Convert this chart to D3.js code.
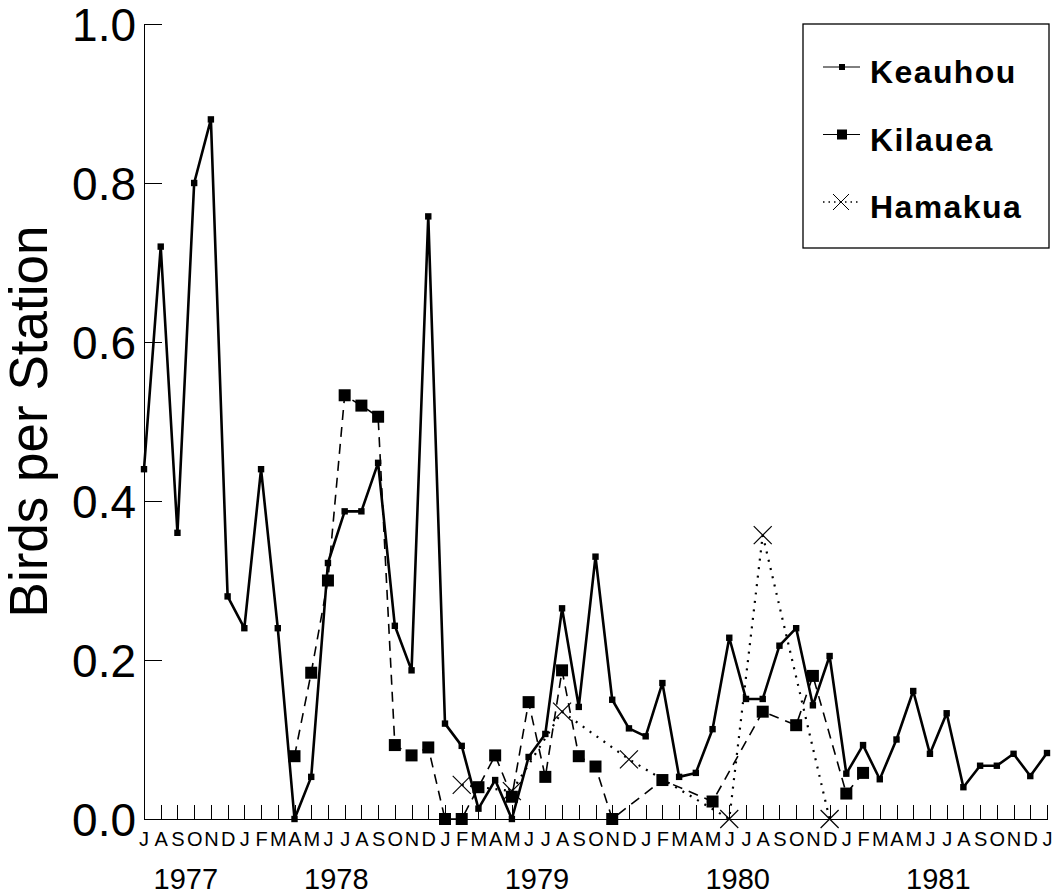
<!DOCTYPE html>
<html lang="en">
<head>
<meta charset="utf-8">
<title>Birds per Station</title>
<script src="https://cdn.jsdelivr.net/npm/d3@7"></script>
<style>
	body {
		margin: 0;
		background: #fff;
		font-family: "Liberation Sans", Arial, Helvetica, sans-serif;
	}
	.axis path, .axis line {
		stroke: #000;
		shape-rendering: crispEdges;
	}
	.axis text {
		fill: #000;
		font-family: "Liberation Sans", Arial, Helvetica, sans-serif;
	}
</style>
</head>
<body>
<script>

// month letters, Jul 1977 .. Jan 1982
var monthLabels = ["J","A","S","O","N","D",
	"J","F","M","A","M","J","J","A","S","O","N","D",
	"J","F","M","A","M","J","J","A","S","O","N","D",
	"J","F","M","A","M","J","J","A","S","O","N","D",
	"J","F","M","A","M","J","J","A","S","O","N","D",
	"J"];
var years = ["1977", "1978", "1979", "1980", "1981"];
var firstYear = 1977, firstMonth = 6; // July = month 6 (0 based)

var yTicks = [0, 0.2, 0.4, 0.6, 0.8, 1.0];

var keauhou = [0.44, 0.72, 0.36, 0.80, 0.88, 0.28,
	0.24, 0.44, 0.24, 0.00, 0.053, 0.322, 0.387, 0.387, 0.448, 0.243, 0.187, 0.758,
	0.12, 0.092, 0.013, 0.049, 0.0, 0.078, 0.107, 0.265, 0.141, 0.33, 0.15, 0.114,
	0.104, 0.171, 0.053, 0.058, 0.113, 0.228, 0.151, 0.151, 0.218, 0.24, 0.143, 0.205,
	0.057, 0.093, 0.05, 0.10, 0.161, 0.082, 0.133, 0.04, 0.067, 0.067, 0.082, 0.054,
	0.083];

var kilauea = [null, null, null, null, null, null,
	null, null, null, 0.079, 0.184, 0.30, 0.533, 0.52, 0.506, 0.093, 0.08, 0.09,
	0.0, 0.0, 0.04, 0.08, 0.028, 0.147, 0.053, 0.187, 0.079, 0.066, 0.0, null,
	null, 0.049, null, null, 0.022, null, null, 0.135, null, 0.118, 0.18, null,
	0.032, 0.058, null, null, null, null, null, null, null, null, null, null,
	null];

var hamakua = [null, null, null, null, null, null,
	null, null, null, null, null, null, null, null, null, null, null, null,
	null, 0.043, null, null, 0.035, null, null, 0.135, null, null, null, 0.075,
	null, null, null, null, null, 0.0, null, 0.357, null, null, null, 0.0,
	null, null, null, null, null, null, null, null, null, null, null, null,
	null];

var seriesNames = ["Keauhou", "Kilauea", "Hamakua"];

var width = 1060, height = 896;

var svg = d3.select("body").append("svg")
	.attr("width", width)
	.attr("height", height);

var x = d3.scaleLinear()
	.domain([0, monthLabels.length - 1])
	.range([144, 1047]);

var y = d3.scaleLinear()
	.domain([0, 1])
	.range([819, 24]);

// y axis
var yAxis = svg.append("g")
	.attr("class", "axis")
	.attr("transform", "translate(" + x(0) + ",0)")
	.call(d3.axisLeft(y)
		.tickValues(yTicks)
		.tickFormat(d3.format(".1f"))
		.tickSizeInner(-18)
		.tickSizeOuter(0)
		.tickPadding(8));
yAxis.select(".domain").attr("stroke-width", 1.3);
yAxis.selectAll("text")
	.attr("font-size", 46)
	.attr("dy", "0.35em");

// x axis, ticks point up into the plot
var xAxis = svg.append("g")
	.attr("class", "axis")
	.attr("transform", "translate(0," + y(0) + ")")
	.call(d3.axisBottom(x)
		.tickValues(d3.range(1, monthLabels.length))
		.tickFormat(function(i){ return monthLabels[i]; })
		.tickSizeInner(-14)
		.tickSizeOuter(0)
		.tickPadding(13));
xAxis.select(".domain").attr("stroke-width", 1.5);
xAxis.selectAll("text").attr("font-size", 20);
// first month label sits at the y axis
xAxis.append("text")
	.attr("x", x(0))
	.attr("y", 13)
	.attr("dy", "0.71em")
	.attr("text-anchor", "middle")
	.attr("font-size", 20)
	.text(monthLabels[0]);

// year labels centred under their months
var yearCentres = years.map(function(yr){
	var idx = d3.range(monthLabels.length).filter(function(i){
		return firstYear + Math.floor((i + firstMonth) / 12) === +yr;
	});
	return {label: yr, centre: d3.mean(idx)};
});
svg.append("g").selectAll("text")
	.data(yearCentres)
	.enter().append("text")
	.attr("x", function(d){ return x(d.centre); })
	.attr("y", 889)
	.attr("text-anchor", "middle")
	.attr("font-size", 29)
	.text(function(d){ return d.label; });

// y title
svg.append("text")
	.attr("transform", "translate(47," + (y(0) + y(1)) / 2 + ") rotate(-90)")
	.attr("text-anchor", "middle")
	.attr("font-size", 53)
	.text("Birds per Station");

function points(values){
	return values.map(function(v, i){ return {i: i, v: v}; })
		.filter(function(d){ return d.v !== null; });
}

var line = d3.line()
	.x(function(d){ return x(d.i); })
	.y(function(d){ return y(d.v); });

var hamPts = points(hamakua), kilPts = points(kilauea), keaPts = points(keauhou);

// Hamakua: dotted with X markers
svg.append("path")
	.datum(hamPts)
	.attr("d", line)
	.attr("fill", "none")
	.attr("stroke", "#000")
	.attr("stroke-width", 2.2)
	.attr("stroke-dasharray", "2,6.5");

function cross(sel, r){
	sel.append("line").attr("x1", -r).attr("y1", -r).attr("x2", r).attr("y2", r);
	sel.append("line").attr("x1", -r).attr("y1", r).attr("x2", r).attr("y2", -r);
}

svg.append("g").selectAll("g")
	.data(hamPts)
	.enter().append("g")
	.attr("transform", function(d){ return "translate(" + x(d.i) + "," + y(d.v) + ")"; })
	.attr("stroke", "#000")
	.attr("stroke-width", 1.2)
	.call(cross, 9);

// Keauhou line
svg.append("path")
	.datum(keaPts)
	.attr("d", line)
	.attr("fill", "none")
	.attr("stroke", "#000")
	.attr("stroke-width", 2.6)
	.attr("stroke-linejoin", "round");

// Kilauea: dashed with big squares
svg.append("path")
	.datum(kilPts)
	.attr("d", line)
	.attr("fill", "none")
	.attr("stroke", "#000")
	.attr("stroke-width", 1.6)
	.attr("stroke-dasharray", "10,7");

svg.append("g").selectAll("rect")
	.data(kilPts)
	.enter().append("rect")
	.attr("x", function(d){ return x(d.i) - 6; })
	.attr("y", function(d){ return y(d.v) - 6; })
	.attr("width", 12)
	.attr("height", 12)
	.attr("fill", "#000");

// Keauhou small squares
svg.append("g").selectAll("rect")
	.data(keaPts)
	.enter().append("rect")
	.attr("x", function(d){ return x(d.i) - 3.2; })
	.attr("y", function(d){ return y(d.v) - 3.2; })
	.attr("width", 6.4)
	.attr("height", 6.4)
	.attr("fill", "#000");

// legend
var legend = svg.append("g");
legend.append("rect")
	.attr("x", 803).attr("y", 24)
	.attr("width", 246).attr("height", 224)
	.attr("fill", "#fff")
	.attr("stroke", "#000")
	.attr("stroke-width", 1.3);

var entry = legend.selectAll("g.entry")
	.data(seriesNames)
	.enter().append("g")
	.attr("class", "entry")
	.attr("transform", function(d, i){ return "translate(0," + (67 + i * 67.5) + ")"; });

entry.append("line")
	.attr("x1", 823).attr("x2", 860)
	.attr("stroke", "#000")
	.attr("stroke-width", function(d, i){ return i === 2 ? 1.6 : 1; })
	.attr("stroke-dasharray", function(d, i){ return i === 2 ? "1.5,4" : null; });

entry.filter(function(d, i){ return i === 0; }).append("rect")
	.attr("x", 839).attr("y", -3).attr("width", 6).attr("height", 6);
entry.filter(function(d, i){ return i === 1; }).append("rect")
	.attr("x", 837).attr("y", -5).attr("width", 10).attr("height", 10);
entry.filter(function(d, i){ return i === 2; }).append("g")
	.attr("transform", "translate(841,0)")
	.attr("stroke", "#000")
	.attr("stroke-width", 1)
	.call(cross, 8);

entry.append("text")
	.attr("x", 870)
	.attr("y", 16)
	.attr("font-size", 32)
	.attr("font-weight", "bold")
	.attr("letter-spacing", 1.4)
	.text(function(d){ return d; });

</script>
</body>
</html>
